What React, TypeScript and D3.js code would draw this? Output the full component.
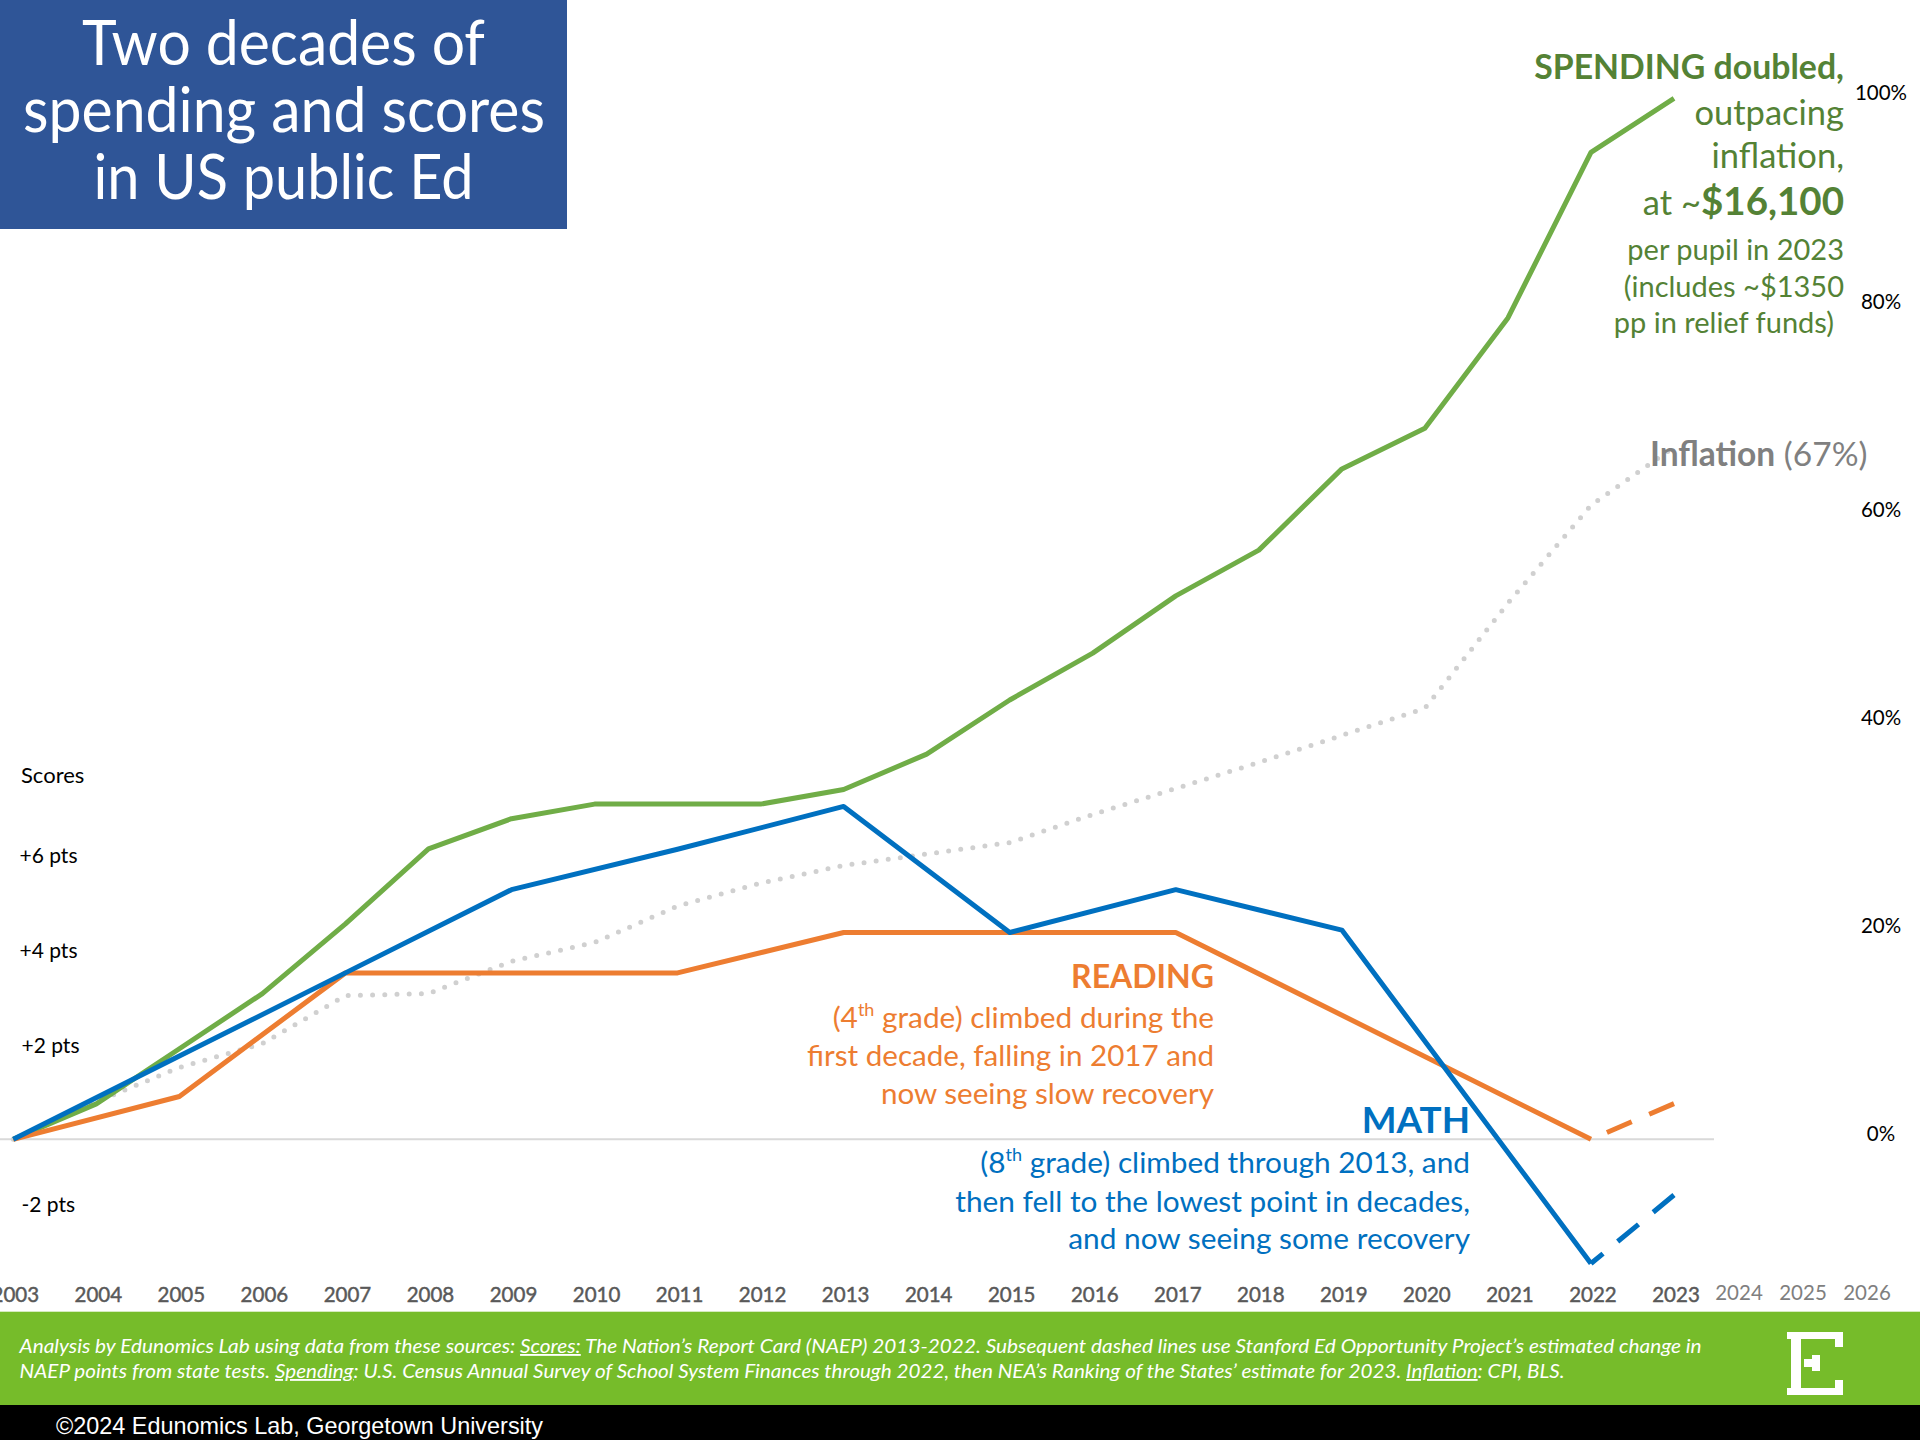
import React from 'react';
import * as d3 from 'd3';

// ---------- data ----------
const years = [2003, 2004, 2005, 2006, 2007, 2008, 2009, 2010, 2011, 2012, 2013, 2014, 2015, 2016, 2017, 2018, 2019, 2020, 2021, 2022, 2023];
const spendingPct = [0, 3.4, 8.7, 14.0, 20.7, 27.9, 30.8, 32.2, 32.2, 32.2, 33.6, 37.0, 42.2, 46.7, 52.2, 56.6, 64.4, 68.3, 78.9, 94.8, 100];
const inflationPct = [0, 3.6, 6.9, 9.2, 13.8, 14.0, 17.1, 18.9, 22.4, 24.6, 26.3, 27.4, 28.5, 31.2, 33.7, 36.2, 38.8, 41.4, 51.5, 60.9, 66.5];

const mathYears = [2003, 2005, 2007, 2009, 2011, 2013, 2015, 2017, 2019, 2022];
const mathPts = [0, 1.75, 3.5, 5.25, 6.1, 7.0, 4.35, 5.25, 4.4, -3.9];
const mathProjYears = [2022, 2023];
const mathProjPts = [-3.9, -1.75];

const readingYears = [2003, 2005, 2007, 2009, 2011, 2013, 2015, 2017, 2022];
const readingPts = [0, 0.9, 3.5, 3.5, 3.5, 4.35, 4.35, 4.35, 0];
const readingProjYears = [2022, 2023];
const readingProjPts = [0, 0.75];

const scoreTicks = [6, 4, 2, -2];
const pctTicks = [0, 20, 40, 60, 80, 100];
const extraYears = [2024, 2025, 2026];

const titleLines = ['Two decades of', 'spending and scores', 'in US public Ed'];

// ---------- colours ----------
const C = {
  green: '#70AD47',
  greenText: '#548235',
  blue: '#0070C0',
  orange: '#ED7D31',
  gray: '#D0D0D0',
  grayText: '#808080',
  titleBg: '#2F5597',
  footer: '#76BC2A',
};

const FONT = 'Lato, "Open Sans", sans-serif';

type Pt = { x: number; y: number };

export default function App() {
  const W = 1920;
  const H = 1440;

  const x = d3.scaleLinear().domain([2003, 2023]).range([13.3, 1674]);
  const yPct = d3.scaleLinear().domain([0, 100]).range([1139.3, 98.3]);
  const yPts = d3.scaleLinear().domain([-2, 0, 6]).range([1203, 1139.3, 854]);
  const xExtra = d3.scaleLinear().domain([2024, 2026]).range([1739, 1867]);

  const line = d3
    .line<Pt>()
    .x((d) => d.x)
    .y((d) => d.y);

  const spendPts: Pt[] = years.map((yr, i) => ({ x: x(yr), y: yPct(spendingPct[i]) }));
  const inflPts: Pt[] = years.map((yr, i) => ({ x: x(yr), y: yPct(inflationPct[i]) }));
  const mathLine: Pt[] = mathYears.map((yr, i) => ({ x: x(yr), y: yPts(mathPts[i]) }));
  const readLine: Pt[] = readingYears.map((yr, i) => ({ x: x(yr), y: yPts(readingPts[i]) }));
  // dashed projections are drawn from the 2023 end back to 2022 so the dash pattern starts at the end
  const mathProj: Pt[] = mathProjYears.map((yr, i) => ({ x: x(yr), y: yPts(mathProjPts[i]) })).reverse();
  const readProj: Pt[] = readingProjYears.map((yr, i) => ({ x: x(yr), y: yPts(readingProjPts[i]) })).reverse();

  const lw = 5;

  return (
    <svg
      width={W}
      height={H}
      viewBox={`0 0 ${W} ${H}`}
      style={{ position: 'absolute', left: 0, top: 0, display: 'block' }}
      fontFamily={FONT}
    >
      <rect x={0} y={0} width={W} height={H} fill="#ffffff" />

      {/* zero line */}
      <line x1={0} x2={1714} y1={yPct(0)} y2={yPct(0)} stroke="#D9D9D9" strokeWidth={2} />

      {/* lines */}
      <path d={line(inflPts) || ''} fill="none" stroke={C.gray} strokeWidth={5} strokeDasharray="0 12.2" strokeLinecap="round" />
      <path d={line(spendPts) || ''} fill="none" stroke={C.green} strokeWidth={lw} strokeLinejoin="round" />
      <path d={line(readLine) || ''} fill="none" stroke={C.orange} strokeWidth={lw} strokeLinejoin="round" />
      <path d={line(readProj) || ''} fill="none" stroke={C.orange} strokeWidth={lw} strokeDasharray="27 19" />
      <path d={line(mathLine) || ''} fill="none" stroke={C.blue} strokeWidth={lw} strokeLinejoin="round" />
      <path d={line(mathProj) || ''} fill="none" stroke={C.blue} strokeWidth={lw} strokeDasharray="27 19" />

      {/* left score labels */}
      <text x={21} y={yPts(6) - 80} fontSize={22} fill="#000" dominantBaseline="central">Scores</text>
      {scoreTicks.map((t) => (
        <text key={t} x={t > 2 ? 19.5 : 21.5} y={yPts(t)} fontSize={21} fill="#000" dominantBaseline="central">
          {t > 0 ? `+${t} pts` : `${t} pts`}
        </text>
      ))}

      {/* right percent labels */}
      {pctTicks.map((t) => (
        <text key={t} x={1881} y={yPct(t) - 6} fontSize={20.5} fill="#000" textAnchor="middle" dominantBaseline="central">
          {`${t}%`}
        </text>
      ))}

      {/* year labels */}
      {years.map((yr) => (
        <text
          key={yr}
          x={x(yr) + 2}
          y={1301.5}
          fontSize={20.5}
          fill="#595959"
          stroke="#595959"
          strokeWidth={0.45}
          textAnchor="middle"
        >
          {yr}
        </text>
      ))}
      {extraYears.map((yr) => (
        <text key={yr} x={xExtra(yr)} y={1300} fontSize={20.5} fill="#7F7F7F" textAnchor="middle">
          {yr}
        </text>
      ))}

      {/* title box */}
      <rect x={0} y={0} width={567} height={229} fill={C.titleBg} />
      <text x={283.5} y={65} fontSize={61} fill="#fff" textAnchor="middle" textLength={403} lengthAdjust="spacingAndGlyphs">
        {titleLines[0]}
      </text>
      <text x={284} y={132} fontSize={61} fill="#fff" textAnchor="middle" textLength={522} lengthAdjust="spacingAndGlyphs">
        {titleLines[1]}
      </text>
      <text x={283.5} y={199} fontSize={61} fill="#fff" textAnchor="middle" textLength={380} lengthAdjust="spacingAndGlyphs">
        {titleLines[2]}
      </text>

      {/* spending annotation */}
      <g fill={C.greenText} textAnchor="end">
        <text x={1844} y={79} fontSize={33.8} fontWeight="bold">SPENDING doubled,</text>
        <text x={1844} y={125} fontSize={34.5}>outpacing</text>
        <text x={1844} y={168} fontSize={34.5}>inflation,</text>
        <text x={1844} y={215} fontSize={34.5}>
          at ~<tspan fontWeight="bold" fontSize={38.5}>$16,100</tspan>
        </text>
        <text x={1844} y={260} fontSize={29}>per pupil in 2023</text>
        <text x={1844} y={297} fontSize={29}>(includes ~$1350</text>
        <text x={1834} y={333} fontSize={29}>pp in relief funds)</text>
      </g>

      {/* inflation annotation */}
      <text x={1650} y={466} fontSize={33.5} fill={C.grayText}>
        <tspan fontWeight="bold">Inflation</tspan>
        <tspan> (67%)</tspan>
      </text>

      {/* reading annotation */}
      <g fill={C.orange} textAnchor="end">
        <text x={1214} y={988} fontSize={32} fontWeight="bold">READING</text>
        <text x={1214} y={1028} fontSize={29.8}>
          (4<tspan dy={-12} fontSize={18}>th</tspan>
          <tspan dy={12}> grade) climbed during the</tspan>
        </text>
        <text x={1214} y={1066} fontSize={29.6}>first decade, falling in 2017 and</text>
        <text x={1214} y={1104} fontSize={29.6}>now seeing slow recovery</text>
      </g>

      {/* math annotation */}
      <g fill={C.blue} textAnchor="end">
        <text x={1470} y={1133} fontSize={36.8} fontWeight="bold">MATH</text>
        <text x={1470} y={1173} fontSize={29.8}>
          (8<tspan dy={-12} fontSize={18}>th</tspan>
          <tspan dy={12}> grade) climbed through 2013, and</tspan>
        </text>
        <text x={1470} y={1212} fontSize={29.8}>then fell to the lowest point in decades,</text>
        <text x={1470} y={1249} fontSize={29.8}>and now seeing some recovery</text>
      </g>

      {/* footer */}
      <rect x={0} y={1311.7} width={W} height={1405 - 1311.7} fill={C.footer} />
      <text x={19.6} y={1353} fontSize={18.5} fontStyle="italic" fill="#fff" textLength={1682} lengthAdjust="spacingAndGlyphs">
        Analysis by Edunomics Lab using data from these sources:{' '}
        <tspan style={{ textDecoration: 'underline' }}>Scores:</tspan> The Nation’s Report Card (NAEP)
        2013-2022. Subsequent dashed lines use Stanford Ed Opportunity Project’s estimated change in
      </text>
      <text x={19.6} y={1378} fontSize={18.5} fontStyle="italic" fill="#fff" textLength={1545} lengthAdjust="spacingAndGlyphs">
        NAEP points from state tests.{' '}
        <tspan style={{ textDecoration: 'underline' }}>Spending</tspan>: U.S. Census Annual Survey of School System Finances
        through 2022, then NEA’s Ranking of the States’ estimate for 2023.{' '}
        <tspan style={{ textDecoration: 'underline' }}>Inflation</tspan>: CPI, BLS.
      </text>

      {/* logo */}
      <g fill="#fff">
        <rect x={1787} y={1332} width={56} height={7} />
        <rect x={1835} y={1332} width={8} height={15} />
        <rect x={1791} y={1332} width={10} height={63} />
        <rect x={1787} y={1388} width={56} height={7} />
        <rect x={1835} y={1380} width={8} height={15} />
        <rect x={1804} y={1359} width={16} height={8} />
        <rect x={1812} y={1355} width={8} height={16} />
      </g>

      {/* copyright band */}
      <rect x={0} y={1405} width={W} height={35} fill="#000" />
      <text
        x={56}
        y={1434}
        fontSize={24}
        fill="#fff"
        fontFamily='"Liberation Sans Narrow", "Liberation Sans", Arial, sans-serif'
        textLength={487}
        lengthAdjust="spacingAndGlyphs"
      >
        ©2024 Edunomics Lab, Georgetown University
      </text>
    </svg>
  );
}
